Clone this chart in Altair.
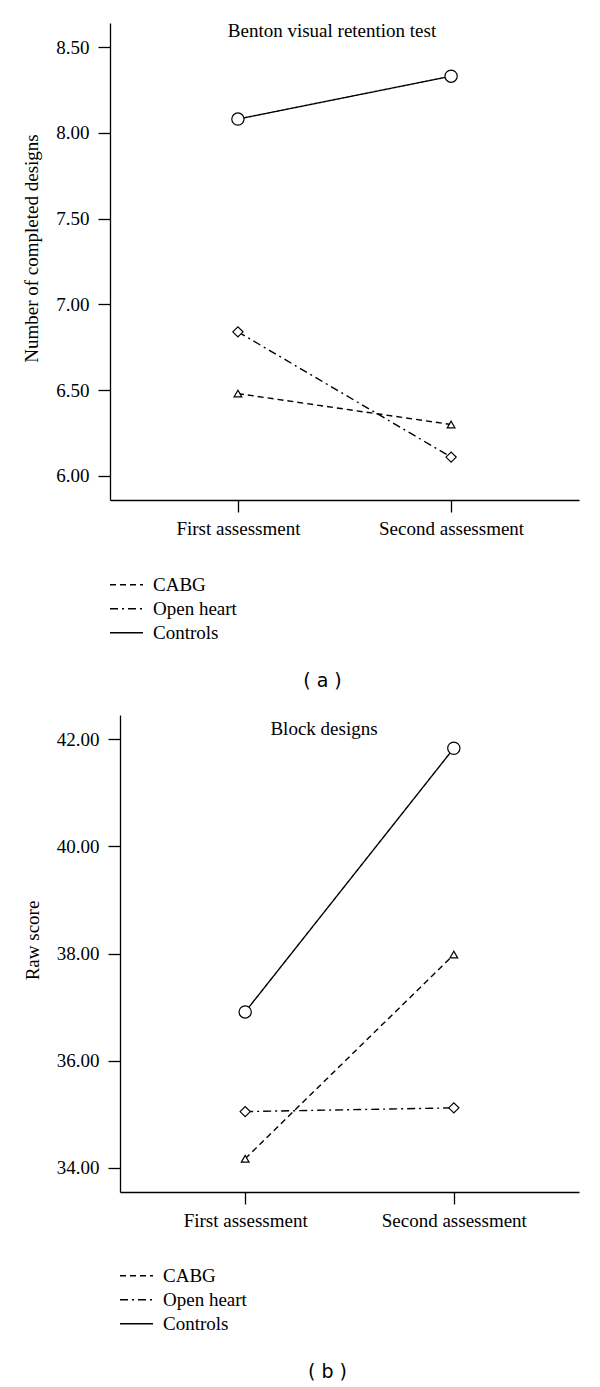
import altair as alt
import pandas as pd

GROUPS = ["CABG", "Open heart", "Controls"]
TIMES = ["First assessment", "Second assessment"]

BENTON_CABG = [6.48, 6.30]
BENTON_OPEN = [6.84, 6.11]
BENTON_CONTROLS = [8.08, 8.33]

BLOCK_CABG = [34.17, 37.98]
BLOCK_OPEN = [35.05, 35.12]
BLOCK_CONTROLS = [36.91, 41.83]

BENTON_TICKS = [6.0, 6.5, 7.0, 7.5, 8.0, 8.5]
BLOCK_TICKS = [34.0, 36.0, 38.0, 40.0, 42.0]

SERIF = "Liberation Serif"


def long_df(cabg, open_heart, controls):
    rows = []
    for g, vals in zip(GROUPS, [cabg, open_heart, controls]):
        for t, v in zip(TIMES, vals):
            rows.append({"group": g, "marker": g, "time": t, "value": v})
    return pd.DataFrame(rows)


def panel(df, title, ytitle, domain, ticks, width, caption, title_x, title_y, leg_y,
          shift):
    x = alt.X("time:N", sort=TIMES,
              scale=alt.Scale(type="point", padding=0.6, range=[-shift, width]),
              axis=alt.Axis(title=None, labelAngle=0, tickSize=12, labelPadding=7))
    y = alt.Y("value:Q", scale=alt.Scale(domain=domain, nice=False, zero=False),
              axis=alt.Axis(values=ticks, format=".2f", title=ytitle, tickSize=12,
                            labelPadding=9, titlePadding=14, titleY=225,
                            offset=shift))
    lines = alt.Chart(df).mark_line(color="black", strokeWidth=1.4).encode(
        x=x, y=y,
        strokeDash=alt.StrokeDash(
            "group:N", sort=GROUPS,
            scale=alt.Scale(domain=GROUPS, range=[[6, 4], [8, 4, 2, 4], [1, 0]]),
            legend=alt.Legend(title=None, orient="none", legendX=-1 - shift,
                              legendY=leg_y,
                              symbolType="stroke", symbolSize=1089,
                              symbolStrokeWidth=1.4, symbolStrokeColor="black",
                              labelFont=SERIF, labelFontSize=19, labelColor="black",
                              labelOffset=9, rowPadding=0, clipHeight=23.5,
                              padding=0)),
        detail="group:N",
    )
    points = alt.Chart(df).mark_point(fill="white", fillOpacity=1, stroke="black",
                                      strokeWidth=1.2, opacity=1).encode(
        x=x, y=y,
        shape=alt.Shape("marker:N",
                        scale=alt.Scale(domain=GROUPS,
                                        range=["triangle-up", "diamond", "circle"]),
                        legend=None),
        size=alt.Size("marker:O", scale=alt.Scale(domain=GROUPS, range=[60, 150, 68]),
                      legend=None),
    )
    ttl = alt.Chart(pd.DataFrame({"t": [title]})).mark_text(
        font=SERIF, fontSize=19, color="black", align="center", baseline="alphabetic"
    ).encode(x=alt.value(title_x - shift), y=alt.value(title_y), text="t:N")
    return alt.layer(lines, points, ttl).properties(
        width=width, height=477,
        title=alt.TitleParams(caption, orient="bottom", anchor="middle", frame="group",
                              font="DejaVu Sans", fontSize=19, fontWeight="normal",
                              color="black", offset=27, dx=-22 - shift / 2),
    ).resolve_legend(strokeDash="independent", shape="independent", size="independent")


top = panel(long_df(BENTON_CABG, BENTON_OPEN, BENTON_CONTROLS),
            "Benton visual retention test", "Number of completed designs",
            [5.86, 8.64], BENTON_TICKS, 459, "( a )", 222, 14, 550, 10)
bottom = panel(long_df(BLOCK_CABG, BLOCK_OPEN, BLOCK_CONTROLS),
               "Block designs", "Raw score",
               [33.55, 42.45], BLOCK_TICKS, 459, "( b )", 204, 20, 549, 0)

chart = alt.vconcat(top, bottom, spacing=24).resolve_legend(
    strokeDash="independent", shape="independent", size="independent"
).resolve_scale(
    strokeDash="independent", shape="independent", size="independent"
).properties(
    padding={"left": 14, "top": 14, "right": 0, "bottom": 0}
).configure_view(stroke=None).configure_axis(
    labelFont=SERIF, labelFontSize=19, labelColor="black",
    titleFont=SERIF, titleFontSize=19, titleColor="black", titleFontWeight="normal",
    domainColor="black", domainWidth=1.3, tickColor="black", tickWidth=1.3, grid=False,
)

chart.save("out.html", embed_options={"renderer": "svg", "actions": False})
